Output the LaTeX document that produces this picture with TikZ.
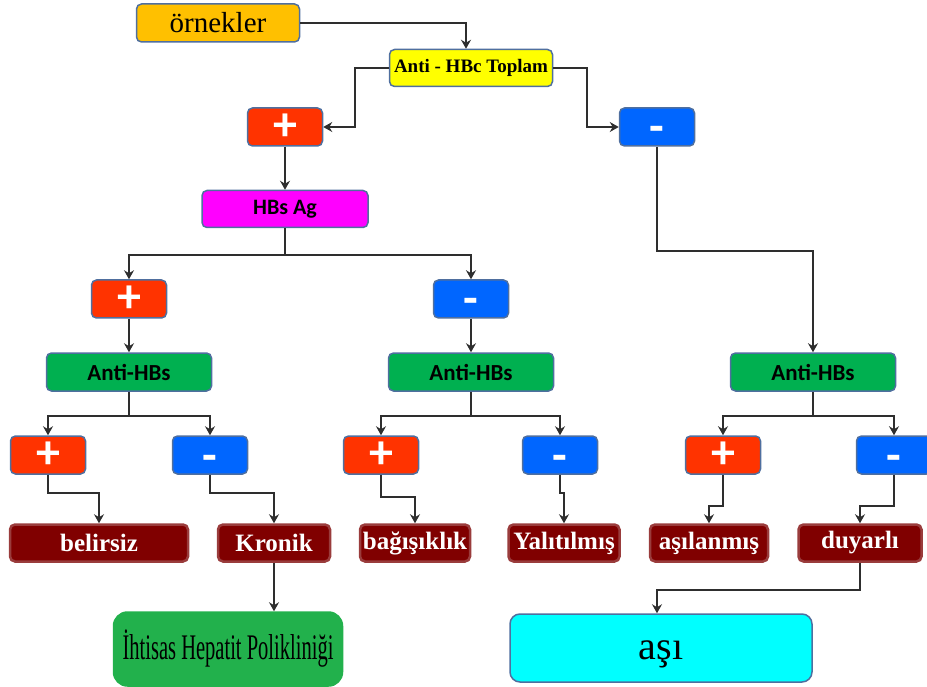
\documentclass[tikz,border=0pt]{standalone}
\usepackage{fontspec}
\usepackage{graphicx}
\setmainfont{Liberation Serif}
\newfontfamily\calibri{Carlito}
\usetikzlibrary{arrows.meta,positioning}

\definecolor{ornekRenk}{HTML}{FFC000}
\definecolor{toplamRenk}{HTML}{FFFF00}
\definecolor{artiRenk}{HTML}{FF3300}
\definecolor{eksiRenk}{HTML}{0066FF}
\definecolor{hbsRenk}{HTML}{FF00FF}
\definecolor{yesil}{HTML}{00B050}
\definecolor{bordo}{HTML}{800000}
\definecolor{bordoKenar}{HTML}{9A3C3C}
\definecolor{polRenk}{HTML}{22B14C}
\definecolor{asiRenk}{HTML}{00FFFF}
\definecolor{kenar}{HTML}{4F6F9F}
\definecolor{cizgi}{HTML}{2E2E2E}

\tikzset{
  kutu/.style={draw=kenar, line width=1.5pt, rounded corners=5pt, inner sep=0pt},
  isaret/.style={kutu, minimum width=75, minimum height=38, text=white,
    font=\calibri\bfseries\fontsize{48}{50}\selectfont},
  arti/.style={isaret, fill=artiRenk},
  eksi/.style={isaret, fill=eksiRenk, text height=32pt, text depth=0pt},
  antihbs/.style={kutu, fill=yesil, minimum width=165, minimum height=38,
    font=\calibri\bfseries\fontsize{23}{26}\selectfont},
  sonuc/.style={kutu, draw=bordoKenar, line width=2.5pt, fill=bordo, minimum height=37,
    text=white, font=\bfseries\fontsize{25}{27}\selectfont},
  ok/.style={draw=cizgi, line width=1.8pt, -{Stealth[length=9pt,width=10pt,inset=3pt]}}
}

\begin{document}
\begin{tikzpicture}[x=1pt,y=-1pt]
    \useasboundingbox (0,0) rectangle (927,687);

    \node[kutu, fill=ornekRenk, minimum width=163, minimum height=38, font=\fontsize{29}{32}\selectfont] (ornek) at (218,23) {örnekler};
    \node[kutu, fill=toplamRenk, minimum width=163, minimum height=37, font=\bfseries\fontsize{19}{22}\selectfont] (toplam) at (471,68) {Anti - HBc Toplam};
    \node[arti] (pos) at (285,127) {+};
    \node[eksi] (neg) at (657,127) {-};
    \node[kutu, fill=hbsRenk, minimum width=166, minimum height=37, font=\calibri\bfseries\fontsize{22}{25}\selectfont] (hbsag) at (285,209) {HBs Ag};

    \node[arti] (posA) at (129,299) {+};
    \node[eksi] (negA) at (471,299) {-};
    \node[antihbs] (antiA) at (129,372) {Anti-HBs};
    \node[antihbs] (antiB) at (471,372) {Anti-HBs};
    \node[antihbs] (antiC) at (813,372) {Anti-HBs};

    \node[arti] (pA) at (48,455) {+};
    \node[eksi] (nA) at (210,455) {-};
    \node[arti] (pB) at (381,455) {+};
    \node[eksi] (nB) at (560,455) {-};
    \node[arti] (pC) at (723,455) {+};
    \node[eksi] (nC) at (894,455) {-};

    \node[sonuc, minimum width=178] (belirsiz) at (99,543) {belirsiz};
    \node[sonuc, minimum width=112] (kronik) at (274,543) {Kronik};
    \node[sonuc, minimum width=110] (bagisik) at (415,543) {bağışıklık};
    \node[sonuc, minimum width=111] (yalitil) at (564,543) {Yalıtılmış};
    \node[sonuc, minimum width=118] (asilan) at (709,543) {aşılanmış};
    \node[sonuc, minimum width=123] (duyarli) at (860,543) {duyarlı};

    \node[kutu, draw=polRenk, fill=polRenk, rounded corners=14pt, minimum width=229, minimum height=74, font=\fontsize{36}{40}\selectfont] (poliklinik) at (228,649) {\scalebox{0.57}[1]{İhtisas Hepatit Polikliniği}};
    \node[kutu, fill=asiRenk, rounded corners=10pt, minimum width=302, minimum height=68, text height=30pt, text depth=8pt, font=\fontsize{40}{44}\selectfont] (asi) at (661,648) {aşı};

    \draw[ok] (ornek.east) -| ([xshift=-5pt]toplam.north);
    \draw[ok] (toplam.west) -- ++(-34,0) |- (pos.east);
    \draw[ok] (toplam.east) -- ++(34,0) |- (neg.west);
    \draw[ok] (pos) -- (hbsag);
    \draw[ok] (hbsag.south) -- ++(0,27) coordinate (j1) -| (posA.north);
    \draw[ok] (j1) -| (negA.north);
    \draw[ok] (neg.south) -- ++(0,104) -| (antiC.north);
    \draw[ok] (posA) -- (antiA);
    \draw[ok] (negA) -- (antiB);

    \draw[ok] (antiA.south) -- ++(0,24) coordinate (j2) -| (pA.north);
    \draw[ok] (j2) -| (nA.north);
    \draw[ok] (antiB.south) -- ++(0,24) coordinate (j3) -| (pB.north);
    \draw[ok] (j3) -| (nB.north);
    \draw[ok] (antiC.south) -- ++(0,24) coordinate (j4) -| (pC.north);
    \draw[ok] (j4) -| (nC.north);

    \draw[ok] (pA.south) -- ++(0,18) -| (belirsiz.north);
    \draw[ok] (nA.south) -- ++(0,18) -| (kronik.north);
    \draw[ok] (pB.south) -- ++(0,22) -| (bagisik.north);
    \draw[ok] (nB.south) -- ++(0,18) -| (yalitil.north);
    \draw[ok] (pC.south) -- ++(0,31) -| (asilan.north);
    \draw[ok] (nC.south) -- ++(0,31) -| (duyarli.north);

    \draw[ok] (kronik.south) -- (kronik.south |- poliklinik.north);
    \draw[ok] (duyarli.south) -- ++(0,27) -| ([xshift=-4pt]asi.north);
\end{tikzpicture}
\end{document}
